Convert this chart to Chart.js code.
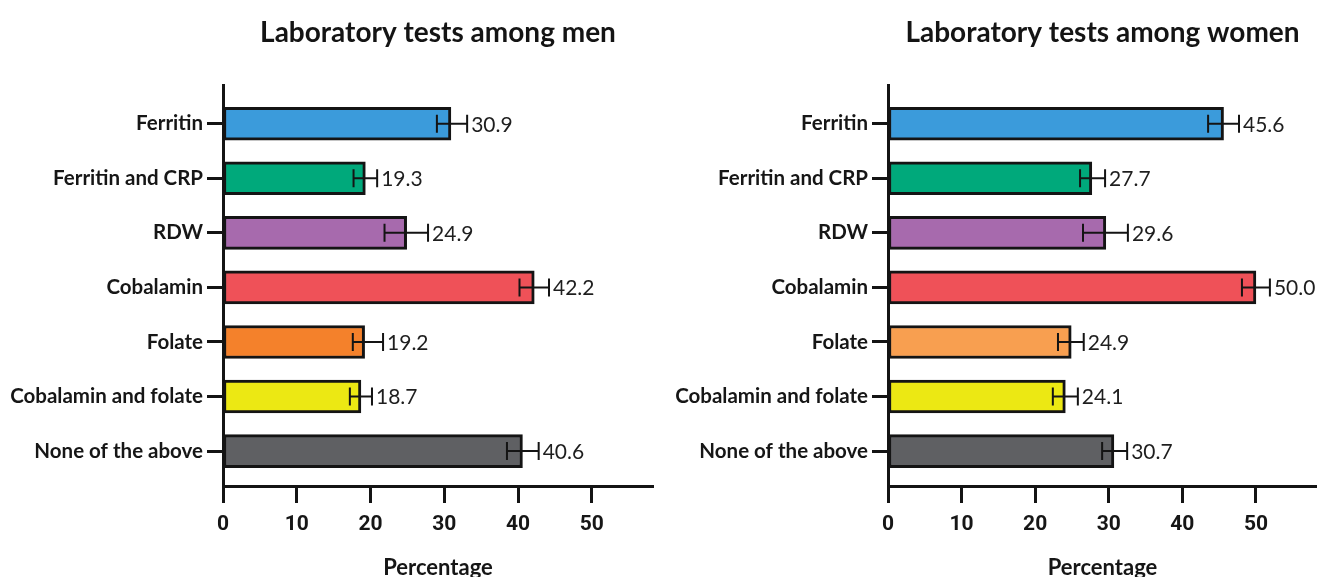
<!DOCTYPE html>
<html lang="en">
<head>
<meta charset="UTF-8">
<title>Laboratory tests</title>
<style>
  body { margin: 0; background: #fff; }
  .wrap { position: absolute; top: 0; height: 577px; }
</style>
</head>
<body>
  <div class="wrap" style="left:0;width:658px"><canvas id="men" width="658" height="577"></canvas></div>
  <div class="wrap" style="left:658px;width:659px"><canvas id="women" width="659" height="577"></canvas></div>

  <script src="https://cdn.jsdelivr.net/npm/chart.js"></script>
  <script>
    // data
    const labels = ['Ferritin', 'Ferritin and CRP', 'RDW', 'Cobalamin', 'Folate', 'Cobalamin and folate', 'None of the above']
    const menValues = [30.9, 19.3, 24.9, 42.2, 19.2, 18.7, 40.6]
    const menLow = [29.0, 17.7, 21.9, 40.2, 17.6, 17.2, 38.5]
    const menHigh = [33.1, 20.9, 27.8, 44.2, 21.7, 20.2, 42.8]
    const womenValues = [45.6, 27.7, 29.6, 50.0, 24.9, 24.1, 30.7]
    const womenLow = [43.5, 26.1, 26.5, 48.1, 23.1, 22.4, 29.1]
    const womenHigh = [47.7, 29.5, 32.6, 51.9, 26.6, 25.8, 32.5]
    const xTicks = [0, 10, 20, 30, 40, 50]

    const menColors = ['#3b9bdb', '#00a97b', '#a76aad', '#ef5158', '#f4812b', '#ece813', '#5f6063']
    const womenColors = ['#3b9bdb', '#00a97b', '#a76aad', '#ef5158', '#f89f50', '#ece813', '#5f6063']

    const ink = '#141414'

    // error bars, value labels and the panel title
    const extras = {
      id: 'extras',
      afterDatasetsDraw(chart, args, opts) {
        const ctx = chart.ctx
        const xs = chart.scales.x
        const meta = chart.getDatasetMeta(0)
        ctx.save()
        ctx.strokeStyle = ink
        ctx.lineWidth = 2
        ctx.fillStyle = '#1e1e1e'
        ctx.font = '21px Lato'
        ctx.textAlign = 'left'
        ctx.textBaseline = 'middle'
        meta.data.forEach((bar, i) => {
          const y = bar.y
          const x1 = xs.getPixelForValue(opts.low[i])
          const x2 = xs.getPixelForValue(opts.high[i])
          ctx.beginPath()
          ctx.moveTo(x1, y); ctx.lineTo(x2, y)
          ctx.moveTo(x1, y - 9); ctx.lineTo(x1, y + 9)
          ctx.moveTo(x2, y - 9); ctx.lineTo(x2, y + 9)
          ctx.stroke()
          ctx.fillText(opts.values[i].toFixed(1), x2 + 4, y + 1)
        })
        const a = chart.chartArea
        ctx.fillStyle = ink
        ctx.font = 'bold 28px Lato'
        ctx.textAlign = 'center'
        ctx.fillText(opts.title, (a.left + a.right) / 2, 33)
        ctx.restore()
      }
    }

    function makeChart(id, values, low, high, colors, title, axisWidth, padRight) {
      return new Chart(document.getElementById(id), {
        type: 'bar',
        data: {
          datasets: [{
            data: values.map((v, i) => ({ x: v, y: i })),
            backgroundColor: colors,
            borderColor: ink,
            borderWidth: 3,
            borderSkipped: false,
            barThickness: 33
          }]
        },
        options: {
          indexAxis: 'y',
          responsive: false,
          animation: false,
          layout: { padding: { top: 85, right: padRight, left: 0, bottom: 0 } },
          plugins: {
            legend: { display: false },
            tooltip: { enabled: false },
            extras: { values, low, high, title }
          },
          scales: {
            y: {
              type: 'linear',
              reverse: true,
              offset: false,
              min: -0.71,
              max: 6.64,
              afterBuildTicks: s => { s.ticks = labels.map((l, i) => ({ value: i })) },
              afterFit: s => { s.width = axisWidth },
              ticks: {
                autoSkip: false,
                callback: v => labels[v],
                color: '#161616',
                font: { family: 'Lato', weight: 'bold', size: 20.5 },
                padding: 4
              },
              grid: { offset: false, drawOnChartArea: false, tickLength: 16, tickWidth: 3, tickColor: ink },
              border: { color: ink, width: 3 }
            },
            x: {
              type: 'linear',
              min: 0,
              max: 58.3,
              afterBuildTicks: s => { s.ticks = xTicks.map(v => ({ value: v })) },
              afterFit: s => { s.height = 91 },
              ticks: {
                color: '#161616',
                font: { family: 'Roboto', weight: 'bold', size: 21 },
                padding: 9
              },
              grid: { drawOnChartArea: false, tickLength: 17, tickWidth: 3, tickColor: ink },
              border: { color: ink, width: 3 },
              title: {
                display: true,
                text: 'Percentage',
                color: '#161616',
                font: { family: 'Lato', weight: 'bold', size: 22, lineHeight: 0.8 },
                padding: { top: 0, bottom: 0 }
              }
            }
          }
        },
        plugins: [extras]
      })
    }

    makeChart('men', menValues, menLow, menHigh, menColors, 'Laboratory tests among men', 223, 5)
    makeChart('women', womenValues, womenLow, womenHigh, womenColors, 'Laboratory tests among women', 230, 0)
  </script>
</body>
</html>
